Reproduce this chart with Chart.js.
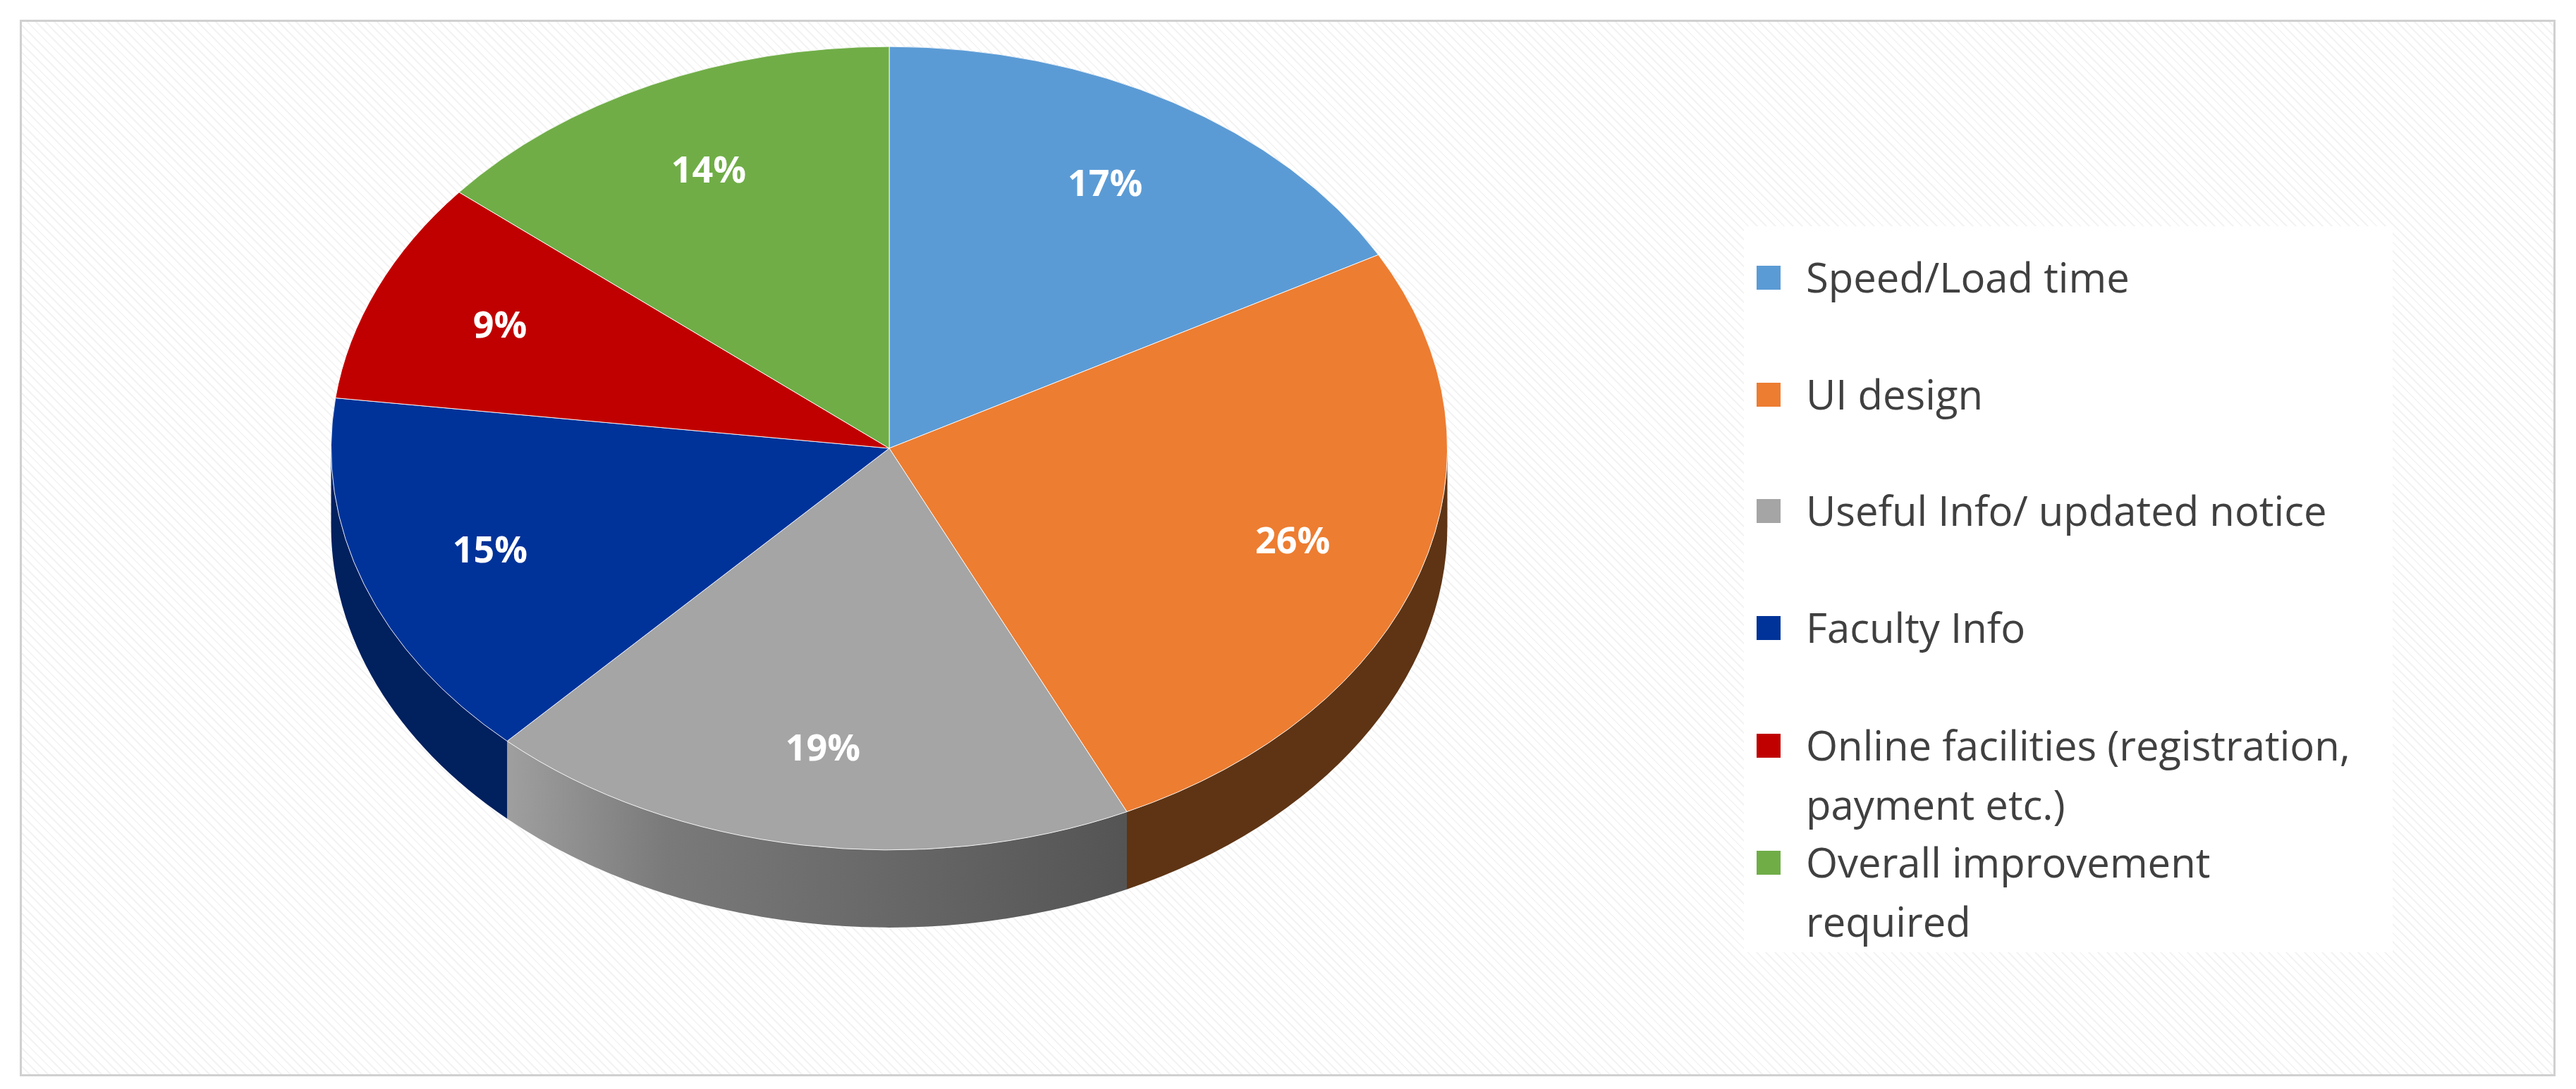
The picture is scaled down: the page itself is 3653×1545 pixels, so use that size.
<!DOCTYPE html>
<html><head><meta charset="utf-8">
<script src="https://cdn.jsdelivr.net/npm/chart.js@4"></script>
<style>
html,body{margin:0;padding:0;width:3653px;height:1545px;background:#fff;overflow:hidden}
#frame{position:absolute;left:28px;top:28px;width:3590px;height:1493px;border:3px solid #d0d0d0;overflow:hidden;
background:repeating-linear-gradient(45deg,#fff 0px,#fff 7px,#f3f3f3 7px,#f3f3f3 9px)}
#cv{position:absolute;left:0;top:-195px;width:2460px;height:1600px}
#legend{position:absolute;left:2442px;top:290px;width:920px;height:1030px;background:#fff;font-family:"Open Sans","Liberation Sans",sans-serif;font-size:58px;color:#404040}
.it{position:absolute;left:88px;line-height:84px}
.sw{position:absolute;left:-70px;top:26px;width:34px;height:34px}
</style></head><body>
<div id="frame"><canvas id="cv" width="2460" height="1600"></canvas><div id="legend"></div></div>
<script>
const categories=["Speed/Load time","UI design","Useful Info/ updated notice","Faculty Info","Online facilities (registration,\npayment etc.)","Overall improvement\nrequired"];
const values=[17,26,19,15,9,14];
const colors=["#5B9BD5","#ED7D31","#A5A5A5","#003399","#C00000","#70AD47"];
const sideColors=["#2f5f8c","#5e3414","#555555","#00205e","#700000","#3e6a25"];
const K=0.72, DEPTH=110;
const legendTops=[30,196,361,527,694,860];
const lg=document.getElementById('legend');
categories.forEach((c,i)=>{const d=document.createElement('div');d.className='it';d.style.top=legendTops[i]+'px';
d.innerHTML='<div class="sw" style="background:'+colors[i]+'"></div>'+c.replace('\n','<br>');lg.appendChild(d);});
const threeD={id:'threeD',
beforeDatasetsDraw(chart){const ctx=chart.ctx;const arcs=chart.getDatasetMeta(0).data;const cx=arcs[0].x,cy=arcs[0].y,r=arcs[0].outerRadius;
ctx.save();ctx.translate(cx,cy);ctx.scale(1,K);ctx.translate(-cx,-cy);
const dy=DEPTH/K;
arcs.forEach((a,i)=>{let s=a.startAngle,e=a.endAngle;
 const tw=Math.PI*2; s=((s%tw)+tw)%tw; e=s+(a.endAngle-a.startAngle);
 const ranges=[[Math.max(s,0),Math.min(e,Math.PI)],[Math.max(s,tw),Math.min(e,tw+Math.PI)]];
 ranges.forEach(([a0,a1])=>{if(a1<=a0)return;
  ctx.beginPath();ctx.arc(cx,cy,r,a0,a1);ctx.arc(cx,cy+dy,r,a1,a0,true);ctx.closePath();
  let g=ctx.createLinearGradient(cx-r,0,cx+r,0);
  if(i===2){g.addColorStop(0,'#c8c8c8');g.addColorStop(0.3,'#7a7a7a');g.addColorStop(1,'#3a3a3a');}
  else{g.addColorStop(0,sideColors[i]);g.addColorStop(1,sideColors[i]);}
  ctx.fillStyle=g;ctx.fill();});
});},
afterDatasetsDraw(chart){const ctx=chart.ctx;ctx.restore();
const arcs=chart.getDatasetMeta(0).data;
ctx.save();ctx.fillStyle='#fff';ctx.font='bold 52px "Open Sans","Liberation Sans",sans-serif';ctx.textAlign='center';ctx.textBaseline='middle';
arcs.forEach((a,i)=>{const m=(a.startAngle+a.endAngle)/2;const rr=a.outerRadius*0.76;
ctx.fillText(values[i]+'%',a.x+Math.cos(m)*rr,a.y+Math.sin(m)*rr*K);});ctx.restore();}};
new Chart(document.getElementById('cv'),{type:'pie',
data:{labels:categories,datasets:[{data:values,backgroundColor:colors,borderColor:'#ffffff',borderWidth:1}]},
options:{responsive:false,animation:false,layout:{padding:8},plugins:{legend:{display:false},tooltip:{enabled:false}}},
plugins:[threeD]});
</script></body></html>
